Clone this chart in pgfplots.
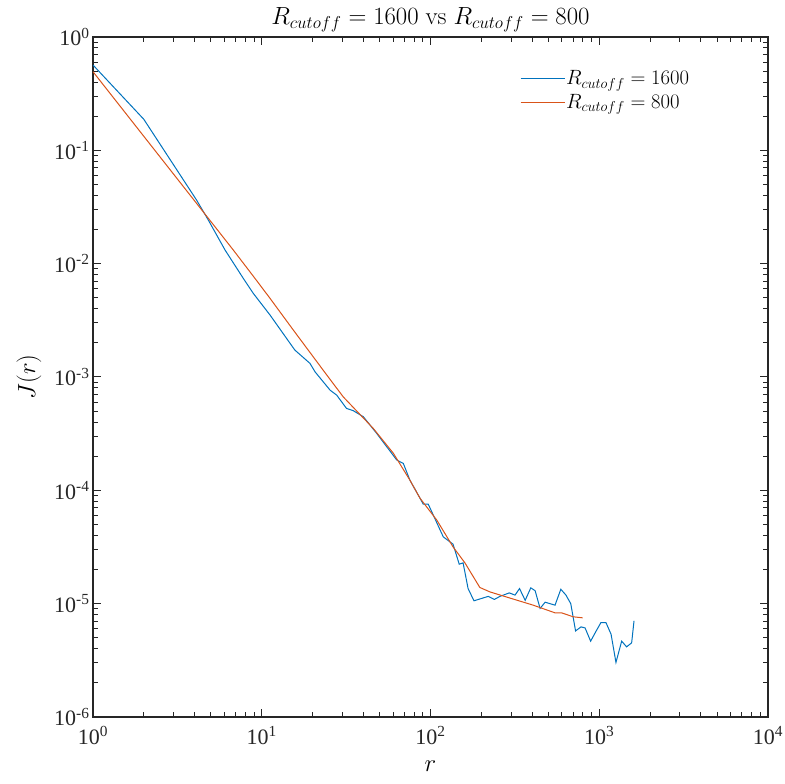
\documentclass[border=0pt]{standalone}
\usepackage[no-math]{fontspec}
\usepackage{pgfplots}
\pgfplotsset{compat=1.18}
\newfontfamily\tickfont{Liberation Serif}
\definecolor{mblue}{rgb}{0,0.447,0.741}
\definecolor{morange}{rgb}{0.85,0.325,0.098}
\definecolor{axgray}{rgb}{0.15,0.15,0.15}
\begin{document}
\begin{tikzpicture}
\begin{axis}[
  name=ax,
  xmode=log, ymode=log,
  width=675bp, height=680bp, scale only axis=true,
  xmin=1, xmax=10000, ymin=1e-6, ymax=1,
  xtick={1,10,100,1000,10000},
  xticklabels={10\textsuperscript{0},10\textsuperscript{1},10\textsuperscript{2},10\textsuperscript{3},10\textsuperscript{4}},
  minor xtick={2,3,4,5,6,7,8,9,20,30,40,50,60,70,80,90,200,300,400,500,600,700,800,900,2000,3000,4000,5000,6000,7000,8000,9000},
  ytick={1e-6,1e-5,1e-4,1e-3,1e-2,1e-1,1},
  yticklabels={10\textsuperscript{-6},10\textsuperscript{-5},10\textsuperscript{-4},10\textsuperscript{-3},10\textsuperscript{-2},10\textsuperscript{-1},10\textsuperscript{0}},
  minor ytick={2e-6,3e-6,4e-6,5e-6,6e-6,7e-6,8e-6,9e-6,2e-5,3e-5,4e-5,5e-5,6e-5,7e-5,8e-5,9e-5,2e-4,3e-4,4e-4,5e-4,6e-4,7e-4,8e-4,9e-4,2e-3,3e-3,4e-3,5e-3,6e-3,7e-3,8e-3,9e-3,2e-2,3e-2,4e-2,5e-2,6e-2,7e-2,8e-2,9e-2,0.2,0.3,0.4,0.5,0.6,0.7,0.8,0.9},
  ticklabel style={font=\tickfont\fontsize{22bp}{26bp}\selectfont, text=axgray},
  xticklabel style={yshift=-6bp},
  tick align=inside, tick pos=both,
  major tick length=8bp, minor tick length=5bp,
  every tick/.style={axgray, line width=1bp},
  every minor tick/.style={axgray, line width=1bp},
  axis line style={axgray, line width=1.1bp},
  xlabel={$r$}, ylabel={$J(r)$},
  label style={font=\fontsize{23bp}{27bp}\selectfont},
  xlabel style={yshift=-10bp},
  ylabel style={yshift=6bp},
  title={$R_{cutoff} = 1600\ \mathrm{vs}\ R_{cutoff} = 800$},
  title style={font=\fontsize{23bp}{27bp}\selectfont, yshift=-4bp},
  legend style={draw=none, fill=none, at={(0.885,0.952)}, anchor=north east,
    font=\fontsize{19.5bp}{23bp}\selectfont, row sep=6bp, inner sep=0bp,
    nodes={inner sep=1bp}},
  legend cell align=left,
  legend image code/.code={\draw[#1] (0bp,0bp) -- (44bp,0bp);},
]
\addplot[mblue, line width=1bp, no marks] coordinates {
(1,0.566) (2,0.188) (4.11,0.0364) (4.82,0.0243) (6.06,0.0132) (7.78,0.00741)
(8.91,0.00547) (11.2,0.00352) (15.7,0.00173) (19.3,0.00132) (20.7,0.00111)
(25.4,0.000766) (27.8,0.000692) (31.8,0.000528) (34.9,0.000504) (40.0,0.000446)
(48.0,0.000318) (63.1,0.000185) (69.0,0.000173) (75.5,0.000123) (86.7,8.51e-5)
(90.6,7.55e-5) (97.0,7.55e-5) (119,3.89e-5) (136,3.35e-5) (148,2.23e-5)
(156,2.29e-5) (167,1.36e-5) (181,1.06e-5) (220,1.16e-5) (239,1.09e-5)
(258,1.16e-5) (293,1.245e-5) (317,1.19e-5) (337,1.36e-5) (364,1.07e-5)
(393,1.38e-5) (417,1.30e-5) (446,9.08e-6) (478,1.03e-5) (547,9.70e-6)
(592,1.34e-5) (635,1.19e-5) (678,1.00e-5) (724,5.75e-6) (780,6.24e-6)
(824,6.11e-6) (889,4.67e-6) (957,5.71e-6) (1023,6.81e-6) (1096,6.81e-6)
(1175,5.37e-6) (1256,3.03e-6) (1358,4.67e-6) (1452,4.16e-6) (1556,4.51e-6)
(1607,7.05e-6)
};
\addlegendentry{$R_{cutoff} = 1600$}
\addplot[morange, line width=1bp, no marks] coordinates {
(1,0.494) (6.78,0.0132) (9.12,0.00741) (11.2,0.00494) (15.4,0.00259)
(24.3,0.00104) (30.4,0.000668) (45.8,0.000352) (60.3,0.000212) (75.5,0.000123)
(86.7,8.51e-5) (109,5.46e-5) (136,3.17e-5) (160,2.29e-5) (196,1.39e-5)
(225,1.27e-5) (296,1.12e-5) (406,9.70e-6) (547,8.30e-6) (598,8.30e-6)
(701,7.66e-6) (798,7.50e-6)
};
\addlegendentry{$R_{cutoff} = 800$}
\end{axis}
\pgfresetboundingbox
\path ([shift={(-93bp,-67bp)}]ax.south west) rectangle ([shift={(17bp,37bp)}]ax.north east);
\end{tikzpicture}
\end{document}
